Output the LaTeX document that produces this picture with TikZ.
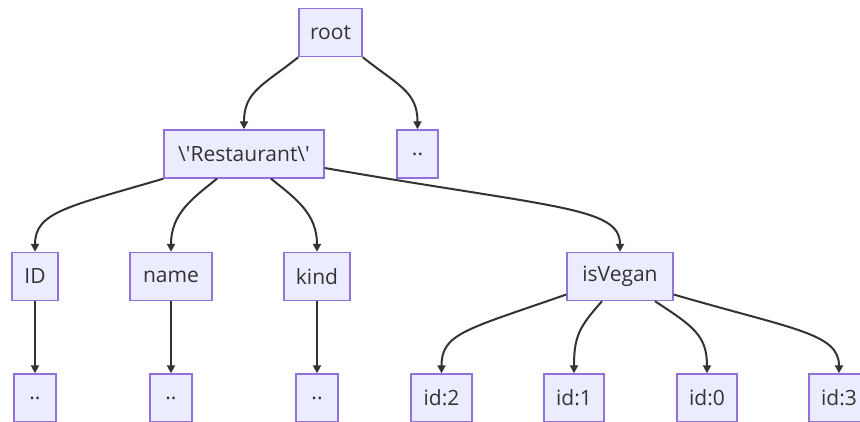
\documentclass[tikz,border=0pt]{standalone}
\usepackage{fontspec}
\setmainfont{Open Sans}
\usetikzlibrary{arrows.meta,calc}
\definecolor{nodefill}{HTML}{ECECFF}
\definecolor{nodeline}{HTML}{9370DB}
\definecolor{edgecol}{HTML}{333333}
\tikzset{
  box/.style={draw=nodeline, fill=nodefill, line width=1.4pt, inner sep=0pt,
    minimum height=48pt, text=edgecol, font=\fontsize{21}{25}\selectfont},
  edge/.style={draw=edgecol, line width=2pt, -{Triangle[length=8pt,width=8pt]}}
}
\begin{document}
\begin{tikzpicture}[x=1pt,y=-1pt]
\clip (0,0) rectangle (860,422);
\fill[white] (0,0) rectangle (860,422);
% level 0
\node[box, minimum width=63pt] (root) at (330.5,32.5) {root};
% level 1
\node[box, minimum width=160pt] (rest) at (244,154) {\textbackslash\textquotesingle Restaurant\textbackslash\textquotesingle};
\node[box, minimum width=41pt] (dotsA) at (417.5,154) {..};
% level 2
\node[box, minimum width=46pt] (id) at (35,276.5) {ID};
\node[box, minimum width=82pt] (name) at (171,276.5) {name};
\node[box, minimum width=66pt] (kind) at (317,276.5) {kind};
\node[box, minimum width=106pt] (veg) at (620,276.5) {isVegan};
% level 3
\node[box, minimum width=42pt] (dotsB) at (35,398) {..};
\node[box, minimum width=42pt] (dotsC) at (171,398) {..};
\node[box, minimum width=42pt] (dotsD) at (317,398) {..};
\node[box, minimum width=61pt] (i2) at (441.5,398) {id:2};
\node[box, minimum width=60pt] (i1) at (574,398) {id:1};
\node[box, minimum width=60pt] (i0) at (707,398) {id:0};
\node[box, minimum width=60pt] (i3) at (839,398) {id:3};
% edges
\draw[edge] (root.south west) .. controls +(-35,28) and +(0,-38) .. (rest.north);
\draw[edge] (root.south east) .. controls +(35,28) and +(0,-38) .. (dotsA.north);
\draw[edge] (rest.south west) .. controls +(-95,28) and +(0,-40) .. (id.north);
\draw[edge] ($(rest.south)+(-27,0)$) .. controls +(-25,20) and +(0,-38) .. (name.north);
\draw[edge] ($(rest.south)+(27,0)$) .. controls +(25,20) and +(0,-38) .. (kind.north);
\draw[edge] ($(rest.east)+(0,14)$) .. controls +(230,40) and +(0,-45) .. (veg.north);
\draw[edge] (id.south) -- (dotsB.north);
\draw[edge] (name.south) -- (dotsC.north);
\draw[edge] (kind.south) -- (dotsD.north);
\draw[edge] ($(veg.west)+(0,18)$) .. controls +(-100,35) and +(0,-40) .. (i2.north);
\draw[edge] ($(veg.south)+(-18,0)$) .. controls +(-22,25) and +(0,-38) .. (i1.north);
\draw[edge] ($(veg.south)+(35,0)$) .. controls +(38,25) and +(0,-38) .. (i0.north);
\draw[edge] ($(veg.east)+(0,18)$) .. controls +(120,35) and +(0,-40) .. (i3.north);
\end{tikzpicture}
\end{document}
